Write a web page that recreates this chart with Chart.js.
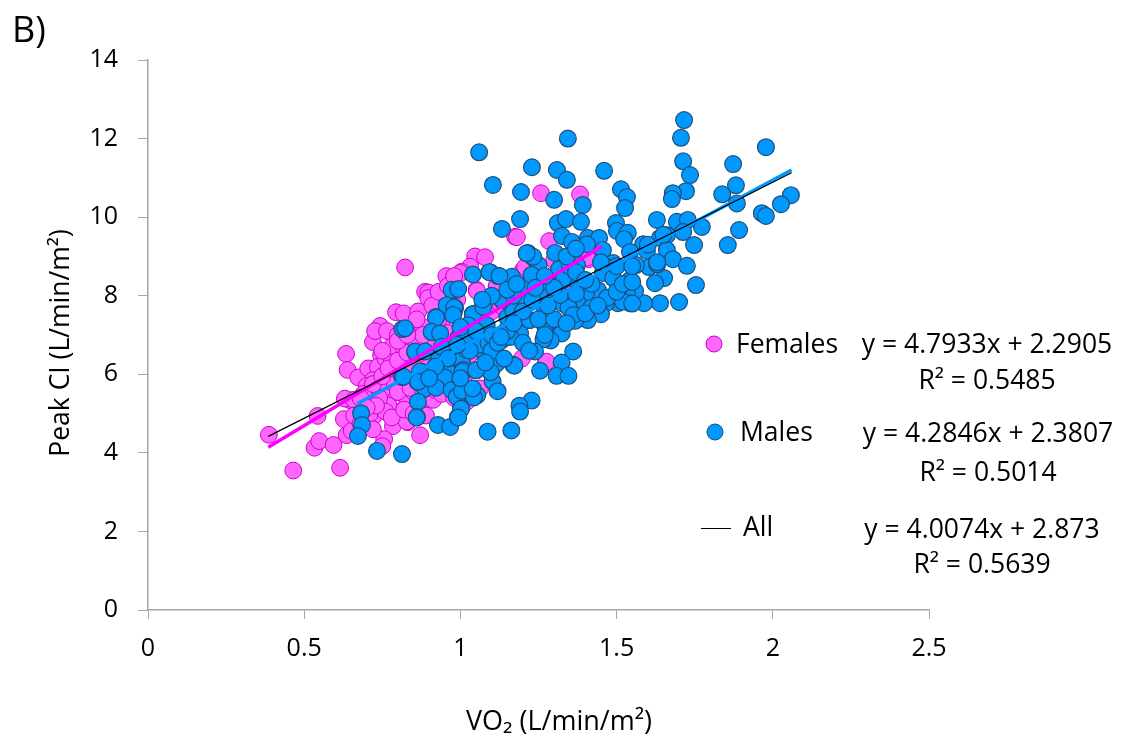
<!DOCTYPE html>
<html><head><meta charset="utf-8">
<style>html,body{margin:0;padding:0;background:#fff}#w{width:1121px;height:739px}</style>
<script src="https://cdn.jsdelivr.net/npm/chart.js@4"></script>
</head><body><div id="w"><canvas id="c" width="1121" height="739"></canvas></div>
<script>
const femalesX=[.387,.543,.465,.615,.533,.548,.594,.634,.639,.673,.794,.863,.72,.743,.727,.765,.849,.784,.746,.705,.736,.804,.72,.743,.647,.63,.627,.636,.652,.723,.778,.79,.784,.832,.871,.756,.75,.829,.912,.849,.81,.823,.887,.9,.897,.897,1.047,1.079,1.031,1.004,.967,.955,1.0,1.175,1.181,1.258,1.383,1.284,1.412,1.405,1.274,1.197,1.276,1.063,.913,.828,1.052,1.116,1.2,.85,.818,.865,1.117,1.053,1.207,1.344,.99,.76,.78,.8,.82,.86,.88,.9,.92,.94,.96,.98,.7,.69,.75,.77,.79,.81,.83,.85,.87,.89,.91,.93,.95,.97,.99,1.01,1.03,1.05,1.07,.68,.66,.71,.74,.76,.78,.8,.84,.86,.88,1.1,1.13,1.15,1.19,1.22,1.25,1.3,1.33,1.36,.68,.72,.75,.77,.8,.83,.86,.88,.93,.95,.97,.85,.9,.88,.92,.73,.7,.66,.68,.72,.78,.82,.85,.89,.94,.98,1.02,.75,.8,.83,.86,.91,.93,.96,.98];
const femalesY=[4.46,4.94,3.55,3.62,4.13,4.3,4.2,6.52,6.11,5.92,7.58,7.58,6.82,7.23,7.1,7.1,7.2,6.59,6.49,6.15,6.19,6.24,5.85,5.8,5.34,5.38,4.86,4.45,4.56,4.94,5.11,5.53,4.68,4.78,4.45,4.35,4.17,5.4,5.42,6.79,6.85,8.72,8.1,8.0,8.08,7.94,9.0,8.98,8.74,8.61,8.4,8.5,8.58,9.5,9.49,10.61,10.58,9.39,8.93,8.97,6.31,6.4,6.32,5.64,5.35,4.8,8.15,8.23,8.65,7.2,7.55,7.6,8.27,8.12,8.73,8.07,7.9,6.4,6.7,7.0,6.6,6.9,7.2,6.5,6.85,7.3,7.05,7.6,5.7,5.5,5.6,5.2,5.75,6.0,5.3,5.55,6.25,5.85,6.1,5.9,6.3,6.7,6.2,5.8,6.5,6.1,6.6,5.1,5.35,5.0,5.4,5.05,6.3,5.55,5.65,5.15,5.0,7.6,7.75,8.4,8.05,8.35,8.6,8.9,8.55,9.0,5.4,5.75,5.95,6.15,6.35,6.55,6.75,7.0,7.4,7.6,7.85,6.2,6.2,5.6,5.6,5.2,5.15,4.95,4.75,4.6,4.9,5.1,5.0,4.95,5.5,5.4,5.3,6.6,6.85,7.0,7.4,7.75,8.1,8.25,8.5];
const malesX=[1.716,.814,.909,.855,.922,.98,.97,1.04,.814,.864,.887,.877,.864,.861,.682,.685,.672,.733,.813,.928,.967,.992,1.002,.957,1.005,1.06,1.344,1.706,1.978,1.229,1.309,1.341,1.46,1.713,1.735,1.873,1.882,1.838,1.885,2.058,2.026,1.965,1.978,1.892,1.856,1.773,1.748,1.693,1.728,1.713,1.629,1.722,1.68,1.677,1.514,1.533,1.527,1.104,1.194,1.3,1.392,1.191,1.133,1.312,1.338,1.386,1.498,1.501,1.536,1.524,1.325,1.357,1.408,1.444,1.405,1.456,1.661,1.639,1.585,1.597,1.661,1.543,1.68,1.725,1.754,1.7,1.639,1.588,1.652,1.623,1.623,1.604,1.562,1.489,1.469,1.456,1.489,1.44,1.543,1.559,1.533,1.504,1.504,1.543,1.466,1.402,1.376,1.348,1.418,1.45,1.408,1.367,1.319,1.274,1.22,1.184,1.133,1.072,1.04,.983,.976,1.04,1.095,1.12,1.165,1.213,1.229,1.248,1.232,1.216,1.303,1.316,1.373,1.328,1.255,1.303,1.325,1.093,1.125,.972,.993,.956,.98,.922,.977,.823,.908,1.041,1.073,1.13,1.18,1.212,1.084,1.025,.855,.887,.935,.993,1.047,1.148,1.191,1.132,1.221,1.271,1.324,1.289,1.266,1.239,1.361,1.324,1.255,1.346,1.362,1.319,1.255,1.212,1.25,1.233,1.212,1.228,1.276,1.33,1.351,1.378,.956,1.004,.93,1.079,1.02,1.1,1.169,1.01,.87,1.116,.95,1.007,1.173,1.308,1.346,.817,.865,.922,.972,.988,1.005,1.054,1.043,1.039,1.103,1.097,1.119,1.002,.993,1.087,1.163,1.228,1.189,1.191,.86,1.15,1.17,1.06,1.09,1.2,.94,1.02,1.27,1.16,1.52,1.55,1.47,1.5,1.52,1.55,1.42,1.37,1.45,1.5,1.55,1.6,1.63,1.63,1.65,1.15,1.17,1.1,1.05,1.0,1.1,1.12,1.13,1.2,1.25,1.3,1.28,1.23,1.17,1.15,1.1,1.07,1.03,.99,.96,.92,.9,1.0,1.05,1.08,1.14,1.22,1.27,1.34,1.4,1.44,1.37,1.4,1.3,1.27,1.34,1.37,1.24,1.18];
const malesY=[12.47,7.15,7.07,6.57,7.46,7.7,7.6,7.53,5.93,5.8,5.64,6.06,5.3,4.91,5.01,4.71,4.43,4.05,3.97,4.71,4.66,4.91,5.14,6.13,6.39,11.65,12.0,12.02,11.78,11.27,11.2,10.95,11.18,11.42,11.07,11.35,10.81,10.58,10.35,10.56,10.33,10.1,10.03,9.67,9.29,9.75,9.29,9.88,9.93,9.62,9.93,10.66,10.61,10.46,10.71,10.51,10.23,10.82,10.64,10.44,10.31,9.95,9.7,9.85,9.95,9.88,9.85,9.65,9.6,9.44,9.52,9.37,9.47,9.47,9.31,9.16,9.54,9.47,9.31,9.14,9.16,9.11,8.93,8.76,8.27,7.84,7.81,7.81,8.45,8.32,8.81,8.73,8.78,8.83,8.73,8.58,8.45,8.14,8.4,8.12,8.07,8.02,7.81,7.81,7.81,8.07,7.81,7.69,7.69,7.53,7.38,7.36,7.08,7.25,7.38,7.71,7.89,7.71,7.53,7.69,8.12,8.54,8.6,8.5,8.48,8.2,8.53,8.76,8.98,9.09,9.09,8.68,8.78,8.4,8.07,8.09,7.81,8.6,8.5,8.15,8.17,7.76,7.7,7.44,7.51,7.17,7.08,7.53,7.72,7.92,7.72,8.19,7.25,7.25,6.58,6.58,7.04,6.92,6.92,7.13,7.04,6.87,7.38,7.23,7.04,6.86,6.89,6.58,6.58,6.3,6.09,7.7,7.51,8.02,8.1,7.85,8.78,8.99,9.08,8.53,8.36,8.4,8.74,8.27,6.11,6.36,6.36,6.53,6.62,6.11,6.24,6.11,6.07,6.28,5.92,6.07,6.22,5.96,5.96,5.94,5.81,5.66,5.6,5.43,5.58,5.47,5.41,5.64,5.82,6.05,5.57,5.12,4.9,4.54,4.57,5.33,5.2,5.05,4.9,7.45,7.6,6.75,6.8,7.6,6.7,7.0,7.7,6.95,7.85,7.8,7.95,8.1,8.3,8.35,8.3,8.6,8.85,8.75,8.75,9.3,8.8,8.85,9.55,7.1,7.3,7.0,7.1,7.2,6.6,6.8,6.95,6.8,7.4,7.4,7.75,7.9,8.0,8.15,8.0,7.9,6.6,6.75,6.4,6.2,5.9,5.9,6.1,6.3,6.4,6.6,7.0,7.3,7.55,7.75,8.05,8.4,8.2,8.5,9.0,9.2,8.2,8.3];
const femaleLineX=[.385,1.453], femaleLineY=[4.14,9.26];
const maleLineX=[.67,2.06], maleLineY=[5.25,11.2];
const allLineX=[.385,2.06], allLineY=[4.42,11.13];
const xTicks=[0,.5,1,1.5,2,2.5];
const zip=(a,b)=>a.map((v,i)=>({x:v,y:b[i]}));
const FONT='"Open Sans", sans-serif';
const PINK='#FF66FF', PINKB='#CC00CC', BLUE='#0099FF', BLUEB='#1F4E79';
const annot={id:'annot',afterDraw(ch){
 const c=ch.ctx;c.save();c.fillStyle='#000';c.textBaseline='alphabetic';
 const t=(s,x,y,sz,al)=>{c.font=sz+'px '+FONT;c.textAlign=al||'left';c.fillText(s,x,y)};
 t('B)',12,42,36);
 t('VO₂ (L/min/m²)',559,730,27,'center');
 c.save();c.translate(69,343);c.rotate(-Math.PI/2);t('Peak CI (L/min/m²)',0,0,26.5,'center');c.restore();
 const dot=(x,y,f,b)=>{c.beginPath();c.arc(x,y,8,0,7);c.fillStyle=f;c.fill();c.lineWidth=1;c.strokeStyle=b;c.stroke();c.fillStyle='#000'};
 dot(714,344,PINK,PINKB);dot(715,432,BLUE,BLUEB);
 c.strokeStyle='#000';c.lineWidth=1;c.beginPath();c.moveTo(701,528.5);c.lineTo(731,528.5);c.stroke();
 t('Females',736,353,26.5);t('Males',740,441,26.5);t('All',743,536,26.5);
 t('y = 4.7933x + 2.2905',987,353,26.5,'center');t('R² = 0.5485',987,389,26.5,'center');
 t('y = 4.2846x + 2.3807',988,442,26.5,'center');t('R² = 0.5014',988,481,26.5,'center');
 t('y = 4.0074x + 2.873',982,538,26.5,'center');t('R² = 0.5639',982,573,26.5,'center');
 c.restore();
}};
new Chart(document.getElementById('c'),{type:'scatter',plugins:[annot],
 data:{datasets:[
  {label:'All',type:'line',data:zip(allLineX,allLineY),borderColor:'#000',borderWidth:1.3,pointRadius:0,order:1,fill:false},
  {label:'Females trend',type:'line',data:zip(femaleLineX,femaleLineY),borderColor:'#FF00FF',borderWidth:3.5,pointRadius:0,order:2,fill:false},
  {label:'Males trend',type:'line',data:zip(maleLineX,maleLineY),borderColor:BLUE,borderWidth:3.5,pointRadius:0,order:3,fill:false},
  {label:'Males',data:zip(malesX,malesY),backgroundColor:BLUE,borderColor:BLUEB,borderWidth:1.2,pointRadius:8.4,order:4},
  {label:'Females',data:zip(femalesX,femalesY),backgroundColor:PINK,borderColor:PINKB,borderWidth:1,pointRadius:8.4,order:5}
 ]},
 options:{responsive:false,animation:false,events:[],
  layout:{padding:{top:60,right:192,left:0,bottom:0}},
  plugins:{legend:{display:false},tooltip:{enabled:false},title:{display:false}},
  scales:{
   x:{type:'linear',min:0,max:2.5,afterFit:s=>{s.height=129},afterBuildTicks:s=>{s.ticks=xTicks.map(v=>({value:v}))},
    grid:{drawOnChartArea:false,color:'#A6A6A6',tickLength:9,tickColor:'#A6A6A6'},border:{color:'#A6A6A6',width:1.5},
    ticks:{color:'#000',font:{family:FONT,size:25},padding:15,maxRotation:0,callback:v=>String(v)}},
   y:{type:'linear',min:0,max:14,afterFit:s=>{s.width=148},
    grid:{drawOnChartArea:false,color:'#A6A6A6',tickLength:10,tickColor:'#A6A6A6'},border:{color:'#A6A6A6',width:1.5},
    ticks:{color:'#000',stepSize:2,font:{family:FONT,size:25},padding:20}}
  }}
});
</script></body></html>
